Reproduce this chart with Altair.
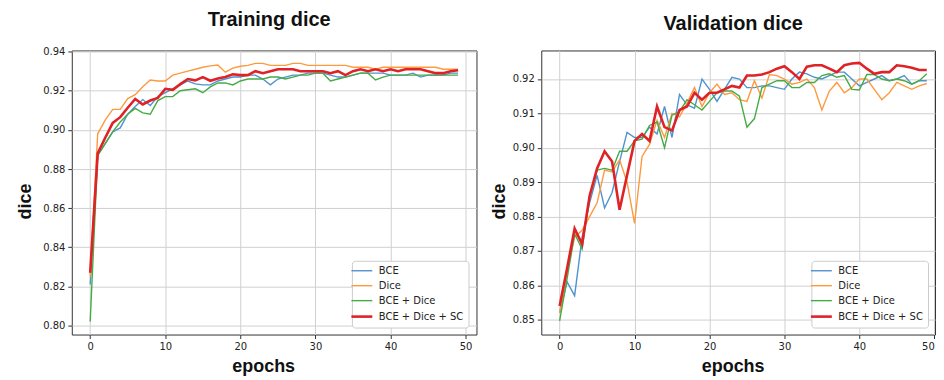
import altair as alt
import pandas as pd

epochs = list(range(50))
series_names = ["BCE", "Dice", "BCE + Dice", "BCE + Dice + SC"]
series_colors = ["#4f93cf", "#fd9a3f", "#46ab46", "#df2226"]
thin_width = 1.4
thick_width = 2.6
thick_series = "BCE + Dice + SC"

train_bce = [0.821, 0.887, 0.893, 0.899, 0.901, 0.908, 0.912, 0.9155, 0.9125, 0.917,
             0.919, 0.921, 0.923, 0.925, 0.9235, 0.923, 0.923, 0.925, 0.926, 0.927,
             0.927, 0.928, 0.928, 0.926, 0.923, 0.926, 0.927, 0.928, 0.928, 0.929,
             0.929, 0.929, 0.928, 0.927, 0.927, 0.928, 0.929, 0.929, 0.929, 0.929,
             0.928, 0.928, 0.928, 0.929, 0.927, 0.928, 0.928, 0.928, 0.929, 0.929]
train_dice = [0.825, 0.898, 0.905, 0.9105, 0.9105, 0.916, 0.918, 0.922, 0.9255, 0.925,
              0.925, 0.928, 0.929, 0.930, 0.931, 0.932, 0.9327, 0.9332, 0.9295, 0.9316,
              0.9325, 0.933, 0.934, 0.934, 0.933, 0.933, 0.933, 0.934, 0.934, 0.933,
              0.933, 0.933, 0.933, 0.933, 0.933, 0.932, 0.932, 0.932, 0.931, 0.932,
              0.932, 0.932, 0.932, 0.932, 0.932, 0.932, 0.932, 0.931, 0.931, 0.931]
train_bce_dice = [0.802, 0.887, 0.893, 0.899, 0.904, 0.908, 0.911, 0.9087, 0.908, 0.915,
                  0.917, 0.917, 0.920, 0.9205, 0.921, 0.919, 0.922, 0.924, 0.924, 0.923,
                  0.925, 0.926, 0.926, 0.926, 0.927, 0.927, 0.926, 0.927, 0.928, 0.928,
                  0.929, 0.929, 0.925, 0.926, 0.927, 0.928, 0.929, 0.929, 0.9255, 0.927,
                  0.928, 0.928, 0.928, 0.928, 0.928, 0.928, 0.928, 0.928, 0.928, 0.928]
train_sc = [0.827, 0.888, 0.896, 0.9036, 0.9065, 0.9113, 0.9158, 0.913, 0.915, 0.9163,
            0.921, 0.9205, 0.9234, 0.926, 0.9253, 0.927, 0.9251, 0.9263, 0.927, 0.9284,
            0.928, 0.928, 0.930, 0.929, 0.930, 0.931, 0.931, 0.931, 0.930, 0.930,
            0.930, 0.930, 0.929, 0.930, 0.928, 0.930, 0.931, 0.930, 0.931, 0.930,
            0.931, 0.930, 0.931, 0.931, 0.931, 0.930, 0.929, 0.929, 0.930, 0.9305]

val_bce = [0.852, 0.861, 0.857, 0.874, 0.884, 0.892, 0.8825, 0.887, 0.896, 0.9045,
           0.903, 0.903, 0.906, 0.904, 0.912, 0.903, 0.9155, 0.9125, 0.9115, 0.920,
           0.917, 0.9135, 0.917, 0.9205, 0.920, 0.9175, 0.9175, 0.918, 0.918, 0.9175,
           0.917, 0.920, 0.922, 0.9215, 0.9205, 0.920, 0.921, 0.922, 0.922, 0.920,
           0.918, 0.919, 0.920, 0.921, 0.9195, 0.920, 0.921, 0.9185, 0.9195, 0.9195]
val_dice = [0.852, 0.864, 0.874, 0.876, 0.880, 0.884, 0.8935, 0.893, 0.8965, 0.890,
            0.878, 0.8975, 0.901, 0.908, 0.903, 0.910, 0.909, 0.913, 0.9175, 0.912,
            0.916, 0.9185, 0.9155, 0.916, 0.914, 0.9135, 0.9195, 0.9145, 0.9213, 0.921,
            0.920, 0.9185, 0.919, 0.920, 0.9175, 0.911, 0.9165, 0.919, 0.916, 0.9175,
            0.920, 0.920, 0.917, 0.914, 0.916, 0.919, 0.918, 0.917, 0.918, 0.9187]
val_bce_dice = [0.8497, 0.862, 0.875, 0.8705, 0.886, 0.8935, 0.894, 0.8935, 0.899, 0.899,
                0.902, 0.9025, 0.9065, 0.9075, 0.900, 0.9095, 0.9105, 0.914, 0.9125, 0.911,
                0.9135, 0.916, 0.9165, 0.9165, 0.915, 0.906, 0.9085, 0.9175, 0.9185, 0.9195,
                0.9195, 0.9175, 0.9175, 0.919, 0.919, 0.921, 0.9215, 0.9205, 0.921, 0.917,
                0.9168, 0.9213, 0.9213, 0.920, 0.9195, 0.920, 0.9195, 0.9185, 0.9195, 0.9215]
val_sc = [0.854, 0.865, 0.8765, 0.872, 0.886, 0.894, 0.899, 0.896, 0.882, 0.892,
          0.902, 0.904, 0.902, 0.912, 0.906, 0.905, 0.911, 0.912, 0.916, 0.914,
          0.916, 0.916, 0.917, 0.918, 0.9175, 0.921, 0.921, 0.9213, 0.922, 0.923,
          0.9237, 0.922, 0.920, 0.9236, 0.924, 0.924, 0.923, 0.922, 0.924, 0.9245,
          0.9247, 0.923, 0.9215, 0.922, 0.922, 0.924, 0.9237, 0.9233, 0.9226, 0.9226]

x_ticks = [0, 10, 20, 30, 40, 50]
train_y_ticks = [0.80, 0.82, 0.84, 0.86, 0.88, 0.90, 0.92, 0.94]
val_y_ticks = [0.85, 0.86, 0.87, 0.88, 0.89, 0.90, 0.91, 0.92]


def make_df(lists):
    rows = []
    for name, vals in zip(series_names, lists):
        for e, v in zip(epochs, vals):
            rows.append({"epoch": e, "loss": name, "dice": v})
    return pd.DataFrame(rows)


def legend_params(lx, ly):
    return dict(
        orient="none", legendX=lx, legendY=ly, title=None,
        symbolType="M-1.75,0L1.75,0", symbolSize=144,
        symbolStrokeWidth=alt.ExprRef(
            f"datum.value === '{thick_series}' ? {thick_width} : {thin_width}"),
        labelFont="DejaVu Sans", labelFontSize=10, labelColor="#222222",
        labelOffset=12, rowPadding=5, padding=5,
        strokeColor="#cccccc", fillColor="white", cornerRadius=3,
    )


def panel(df, title, xdomain, ydomain, yticks, width, lx, ly, ytitle_pad, title_dx):
    return alt.Chart(df).mark_line().encode(
        x=alt.X("epoch:Q", scale=alt.Scale(domain=xdomain, nice=False, zero=False),
                axis=alt.Axis(values=x_ticks, title="epochs", titleX=192, titlePadding=6)),
        y=alt.Y("dice:Q", scale=alt.Scale(domain=ydomain, nice=False, zero=False),
                axis=alt.Axis(values=yticks, format=".2f", title="dice",
                              titleY=151, titlePadding=ytitle_pad)),
        color=alt.Color("loss:N", scale=alt.Scale(domain=series_names, range=series_colors),
                        legend=alt.Legend(**legend_params(lx, ly))),
        strokeWidth=alt.condition(alt.datum.loss == thick_series,
                                  alt.value(thick_width), alt.value(thin_width)),
    ).properties(
        width=width, height=285,
        title=alt.TitleParams(title, font="Liberation Sans", fontSize=20, fontWeight="bold",
                              color="#111111", offset=17, dx=title_dx),
    )


left = panel(make_df([train_bce, train_dice, train_bce_dice, train_sc]), "Training dice",
             [-2.45, 51.45], [0.7954, 0.9406], train_y_ticks, 406, 281, 211, 8, -5)
right = panel(make_df([val_bce, val_dice, val_bce_dice, val_sc]), "Validation dice",
              [-2.45, 50.1], [0.8457, 0.9283], val_y_ticks, 395, 271, 211, 4, -5)

chart = alt.hconcat(left, right, spacing=12).resolve_scale(
    color="independent"
).resolve_legend(
    color="independent"
).properties(
    padding={"left": 8, "top": 0, "right": 0, "bottom": 0}
).configure_view(
    stroke="#333333", strokeWidth=1
).configure_axis(
    grid=True, gridColor="#d0d0d0", gridWidth=1, domain=False,
    tickColor="#333333", tickSize=4, tickWidth=1,
    labelFont="DejaVu Sans", labelFontSize=10, labelColor="#222222", labelPadding=3,
    titleFont="Liberation Sans", titleFontSize=18, titleFontWeight="bold", titleColor="#111111",
)

chart.save("out.html", embed_options={"renderer": "svg", "actions": False})
